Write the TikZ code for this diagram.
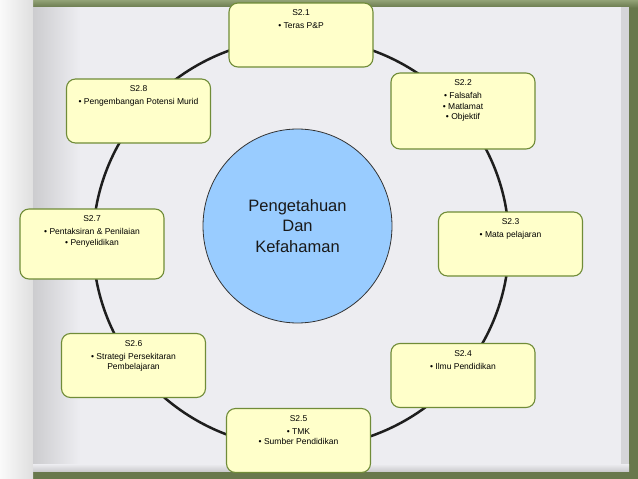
\documentclass[tikz,border=0pt]{standalone}
\usepackage{fontspec}
\setmainfont{Liberation Sans}
\usetikzlibrary{shapes.geometric}
\definecolor{framegreen}{RGB}{104,120,76}
\definecolor{topgreen}{RGB}{146,162,118}
\definecolor{pagegray}{RGB}{237,237,241}
\definecolor{boxfill}{RGB}{255,255,202}
\definecolor{boxedge}{RGB}{112,140,56}
\definecolor{hubfill}{RGB}{153,204,255}
\definecolor{ringcol}{RGB}{30,30,30}
\begin{document}
\begin{tikzpicture}[x=1pt,y=-1pt,
  stagebox/.style={draw=boxedge, fill=boxfill, line width=1.1pt, rounded corners=9pt,
    minimum width=144pt, minimum height=64pt, inner sep=0pt},
  btext/.style={font=\fontsize{8.5}{10.5}\selectfont, align=center, anchor=north, inner sep=0pt, text=black},
  hub/.style={ellipse, draw=black!80, fill=hubfill, line width=0.8pt,
    minimum width=189pt, minimum height=194pt, inner sep=0pt,
    font=\fontsize{16.5}{20.5}\selectfont, align=center, text=black!90},
  ring/.style={draw=ringcol, line width=2.5pt}]
\useasboundingbox (0,0) rectangle (638,479);
% background
\fill[framegreen] (0,0) rectangle (638,479);
\shade[top color=topgreen, bottom color=framegreen!90!topgreen] (0,0) rectangle (638,7);
\fill[pagegray] (33,7) rectangle (629,471);
\fill[gray!22!pagegray] (621,7) rectangle (629,471);
\shade[left color=white!96!gray, right color=gray!25!white] (0,0) rectangle (33,479);
\shade[left color=gray!30!pagegray, right color=pagegray] (33,7) rectangle (80,471);
\shade[top color=pagegray, bottom color=gray!30!pagegray] (33,464) rectangle (629,471);
% ring
\coordinate (ringc) at (301,243);
\draw[ring] (ringc) ellipse [x radius=208pt, y radius=205pt];
% boxes
\node[stagebox] (b1) at (301,35) {};
\node[stagebox, minimum height=76pt] (b2) at (463,111) {};
\node[stagebox] (b3) at (510.5,244) {};
\node[stagebox] (b4) at (463,375.5) {};
\node[stagebox] (b5) at (298.5,440.5) {};
\node[stagebox] (b6) at (133.5,365.5) {};
\node[stagebox, minimum height=70pt] (b7) at (92,244) {};
\node[stagebox] (b8) at (138.5,111) {};
\node[btext] (t1) at ([yshift=-7pt]b1.north) {S2.1\\[2.5pt]• Teras P\&P};
\node[btext] (t2) at ([yshift=-7pt]b2.north) {S2.2\\[2.5pt]• Falsafah\\• Matlamat\\• Objektif};
\node[btext] (t3) at ([yshift=-7pt]b3.north) {S2.3\\[2.5pt]• Mata pelajaran};
\node[btext] (t4) at ([yshift=-7pt]b4.north) {S2.4\\[2.5pt]• Ilmu Pendidikan};
\node[btext] (t5) at ([yshift=-7pt]b5.north) {S2.5\\[2.5pt]• TMK\\• Sumber Pendidikan};
\node[btext] (t6) at ([yshift=-7pt]b6.north) {S2.6\\[2.5pt]• Strategi Persekitaran\\Pembelajaran};
\node[btext] (t7) at ([yshift=-7pt]b7.north) {S2.7\\[2.5pt]• Pentaksiran \& Penilaian\\• Penyelidikan};
\node[btext] (t8) at ([yshift=-7pt]b8.north) {S2.8\\[2.5pt]• Pengembangan Potensi Murid};
% hub
\node[hub] (hubc) at (297.5,226) {Pengetahuan\\Dan\\Kefahaman};
\end{tikzpicture}
\end{document}
